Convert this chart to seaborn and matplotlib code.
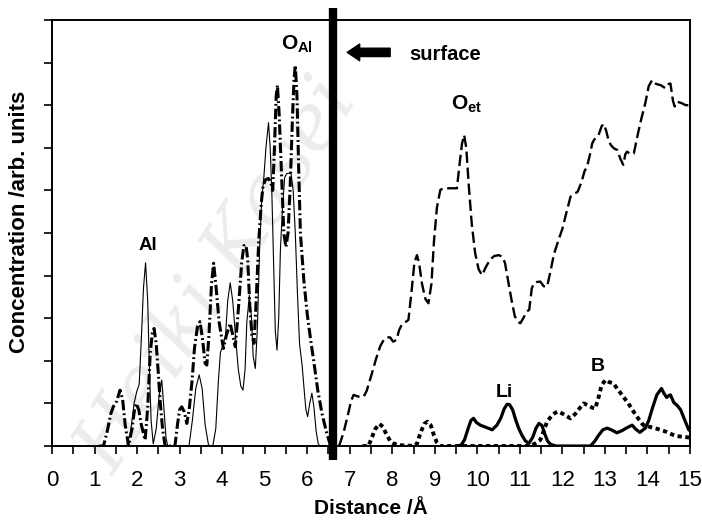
import matplotlib
matplotlib.use("Agg")
import numpy as np
import pandas as pd
import matplotlib.pyplot as plt
import seaborn as sns
from matplotlib.ticker import MultipleLocator, NullFormatter
from matplotlib import font_manager

# ---------------- data ----------------
al_x = [1.50, 1.76, 1.85, 1.93, 1.99, 2.05, 2.10, 2.15, 2.20, 2.25, 2.29, 2.33, 2.38, 2.45, 2.52, 2.58,
        2.63, 2.68, 2.72, 3.22, 3.30, 3.38, 3.46, 3.53, 3.60, 3.68, 3.78, 3.85, 3.91, 3.96, 4.02, 4.08,
        4.13, 4.19, 4.25, 4.32, 4.38, 4.44, 4.49, 4.54, 4.58, 4.64, 4.69, 4.73, 4.78, 4.83, 4.88, 4.93,
        4.98, 5.03, 5.09, 5.13, 5.17, 5.21, 5.25, 5.29, 5.33, 5.37, 5.42, 5.47, 5.52, 5.62, 5.67, 5.72,
        5.77, 5.82, 5.88, 5.93, 5.97, 6.01, 6.06, 6.11, 6.16, 6.21, 6.26, 6.30, 6.55]
al_y = [0.00, 0.00, 0.35, 1.00, 1.27, 1.45, 2.50, 3.70, 4.30, 3.40, 1.80, 0.60, 0.05, 0.40, 1.20, 1.55,
        0.90, 0.20, 0.00, 0.00, 0.60, 1.35, 1.67, 1.35, 0.50, 0.02, 0.00, 0.40, 1.50, 2.20, 2.35, 2.60,
        3.40, 3.83, 3.40, 2.50, 1.80, 1.40, 1.31, 1.80, 2.90, 3.54, 3.00, 2.10, 1.82, 2.80, 4.60, 5.77,
        6.30, 7.00, 7.59, 7.00, 5.90, 4.30, 2.70, 2.25, 3.00, 4.60, 5.60, 6.30, 6.40, 6.40, 6.00, 5.00,
        3.60, 2.40, 1.90, 1.30, 0.85, 0.69, 1.00, 1.24, 0.90, 0.35, 0.05, 0.00, 0.00]

oal_x = [1.10, 1.21, 1.30, 1.38, 1.44, 1.52, 1.60, 1.66, 1.72, 1.80, 1.88, 1.94, 1.98, 2.04, 2.10, 2.19,
         2.25, 2.31, 2.36, 2.40, 2.45, 2.50, 2.54, 2.60, 2.66, 2.89, 2.95, 3.00, 3.05, 3.11, 3.17, 3.23,
         3.29, 3.35, 3.42, 3.48, 3.54, 3.60, 3.64, 3.69, 3.75, 3.80, 3.86, 3.93, 4.03, 4.10, 4.19, 4.25,
         4.31, 4.38, 4.46, 4.51, 4.56, 4.60, 4.65, 4.70, 4.75, 4.80, 4.86, 4.92, 4.96, 5.02, 5.09, 5.14,
         5.19, 5.23, 5.27, 5.30, 5.34, 5.40, 5.45, 5.50, 5.55, 5.60, 5.65, 5.69, 5.72, 5.76, 5.80, 5.84,
         5.92, 6.00, 6.08, 6.15, 6.25, 6.35, 6.46, 6.55]
oal_y = [0.00, 0.00, 0.35, 0.75, 0.92, 1.05, 1.31, 1.10, 0.50, 0.00, 0.40, 0.85, 1.00, 0.85, 0.50, 0.14,
         0.90, 2.20, 2.65, 2.76, 2.40, 1.70, 1.08, 0.40, 0.00, 0.00, 0.50, 0.85, 0.92, 0.80, 0.53, 0.90,
         1.50, 2.30, 2.80, 2.92, 2.50, 1.94, 1.90, 2.60, 3.80, 4.29, 3.70, 2.90, 2.29, 2.60, 2.88, 2.60,
         2.33, 3.20, 4.30, 4.70, 4.72, 4.40, 3.30, 2.60, 2.41, 3.40, 4.80, 5.70, 6.09, 6.25, 6.28, 6.20,
         6.00, 7.00, 8.20, 8.47, 7.80, 6.30, 5.00, 4.67, 5.00, 6.10, 7.60, 8.60, 8.94, 8.20, 6.50, 5.00,
         3.90, 3.10, 2.50, 2.02, 1.30, 0.75, 0.30, 0.00]

oet_x = [6.75, 6.85, 6.95, 7.03, 7.09, 7.20, 7.33, 7.40, 7.52, 7.62, 7.72, 7.80, 7.88, 7.95, 8.02, 8.10,
         8.16, 8.22, 8.30, 8.38, 8.45, 8.52, 8.58, 8.63, 8.70, 8.78, 8.85, 8.92, 8.98, 9.05, 9.13, 9.20,
         9.29, 9.40, 9.52, 9.58, 9.64, 9.69, 9.74, 9.80, 9.87, 9.95, 10.03, 10.11, 10.20, 10.30, 10.40,
         10.50, 10.58, 10.65, 10.72, 10.80, 10.88, 10.95, 11.01, 11.08, 11.16, 11.22, 11.28, 11.33,
         11.40, 11.48, 11.56, 11.64, 11.72, 11.80, 11.91, 12.00, 12.10, 12.19, 12.28, 12.36, 12.45,
         12.52, 12.58, 12.65, 12.70, 12.74, 12.80, 12.85, 12.92, 12.97, 13.03, 13.09, 13.15, 13.22,
         13.29, 13.36, 13.43, 13.48, 13.52, 13.60, 13.68, 13.78, 13.86, 13.95, 14.03, 14.11, 14.20,
         14.31, 14.42, 14.50, 14.54, 14.60, 14.64, 14.70, 14.80, 14.90, 15.00]
oet_y = [0.00, 0.30, 0.70, 1.05, 1.20, 1.16, 1.16, 1.30, 1.70, 2.05, 2.35, 2.49, 2.55, 2.55, 2.45, 2.49,
         2.72, 2.84, 2.90, 2.96, 3.60, 4.30, 4.48, 4.30, 3.80, 3.45, 3.35, 3.80, 4.80, 5.60, 6.01, 6.05,
         6.05, 6.05, 6.05, 6.60, 7.10, 7.30, 7.00, 6.10, 5.20, 4.52, 4.15, 4.01, 4.20, 4.38, 4.46,
         4.48, 4.45, 4.30, 3.90, 3.45, 3.05, 2.92, 2.88, 3.00, 3.15, 3.20, 3.70, 3.82,
         3.85, 3.86, 3.75, 3.74, 4.10, 4.50, 4.84, 5.10, 5.50, 5.85, 5.92, 5.97, 6.20,
         6.45, 6.56, 6.85, 7.10, 7.18, 7.25, 7.30, 7.50, 7.56, 7.40, 7.15, 7.05, 6.98,
         6.95, 6.75, 6.60, 6.85, 6.91, 6.85, 6.87, 7.35, 7.70, 8.05, 8.45, 8.59, 8.50,
         8.47, 8.40, 8.50, 8.51, 8.10, 7.97, 8.08, 8.05, 8.00, 8.00]

li_x = [9.50, 9.62, 9.70, 9.78, 9.85, 9.91, 9.98, 10.07, 10.20, 10.35, 10.46, 10.55, 10.63, 10.70,
        10.76, 10.83, 10.90, 10.97, 11.05, 11.13, 11.21, 11.30, 11.38, 11.45, 11.52, 11.58, 11.65,
        11.72, 11.85, 12.66, 12.75, 12.85, 12.95, 13.05, 13.15, 13.28, 13.40, 13.52, 13.64, 13.72,
        13.82, 13.95, 14.03, 14.12, 14.22, 14.33, 14.38, 14.45, 14.50, 14.54, 14.62, 14.70, 14.78,
        14.88, 14.97, 15.00]
li_y = [0.00, 0.02, 0.15, 0.40, 0.60, 0.65, 0.55, 0.49, 0.44, 0.38, 0.49, 0.65, 0.87, 0.98,
        0.97, 0.85, 0.62, 0.42, 0.25, 0.12, 0.06, 0.20, 0.42, 0.53, 0.48, 0.30, 0.12,
        0.04, 0.00, 0.00, 0.10, 0.25, 0.38, 0.42, 0.38, 0.31, 0.36, 0.43, 0.49, 0.40,
        0.32, 0.42, 0.60, 0.90, 1.20, 1.35, 1.25, 1.14, 1.18, 1.20, 1.02, 0.95, 0.85,
        0.60, 0.38, 0.36]

b_x = [7.30, 7.44, 7.52, 7.60, 7.70, 7.78, 7.86, 7.95, 8.03, 8.15, 8.50, 8.58, 8.66, 8.75, 8.83, 8.90,
       8.98, 9.05, 9.13, 11.25, 11.36, 11.48, 11.56, 11.64, 11.74, 11.83, 11.91, 12.00, 12.10, 12.19,
       12.30, 12.40, 12.50, 12.62, 12.70, 12.77, 12.84, 12.92, 13.01, 13.10, 13.20, 13.30, 13.43,
       13.55, 13.67, 13.78, 13.90, 14.05, 14.20, 14.31, 14.45, 14.58, 14.70, 14.80, 14.97, 15.00]
b_y = [0.00, 0.00, 0.20, 0.40, 0.52, 0.45, 0.28, 0.12, 0.06, 0.02, 0.00, 0.05, 0.30, 0.52, 0.57, 0.50,
       0.25, 0.08, 0.00, 0.00, 0.06, 0.14, 0.35, 0.57, 0.70, 0.78, 0.81, 0.76, 0.70, 0.65,
       0.75, 0.88, 1.00, 0.95, 0.90, 0.88, 1.10, 1.42, 1.55, 1.50, 1.47, 1.33, 1.16,
       1.00, 0.81, 0.65, 0.49, 0.45, 0.41, 0.38, 0.33, 0.27, 0.23, 0.22, 0.20, 0.20]

surface_x = 6.6
x_tick_labels = [str(i) for i in range(16)]

# ---------------- style ----------------
sns.set_style("ticks")
plt.rcParams["font.family"] = ["Liberation Sans", "DejaVu Sans"]
plt.rcParams["mathtext.fontset"] = "custom"
plt.rcParams["mathtext.rm"] = "Liberation Sans"
plt.rcParams["mathtext.bf"] = "Liberation Sans:bold"
plt.rcParams["axes.linewidth"] = 1.4
plt.rcParams["text.color"] = "black"
plt.rcParams["axes.labelcolor"] = "black"
plt.rcParams["xtick.color"] = "black"
plt.rcParams["ytick.color"] = "black"

installed = {f.name for f in font_manager.fontManager.ttflist}
tick_family = ["Liberation Sans Narrow"] if "Liberation Sans Narrow" in installed else ["Liberation Sans"]
tick_size = 17 if "Liberation Sans Narrow" in installed else 16

fig = plt.figure(figsize=(7.02, 5.22), dpi=100)
ax = fig.add_axes([52 / 702, 76 / 522, 638 / 702, 426 / 522])
ax.patch.set_alpha(0)

# faint watermark behind everything
fig.text(0.31, 0.47, "Heiki Kasei", rotation=57, fontsize=56, color="#ececec",
         family=["DejaVu Serif"], style="italic", ha="center", va="center", zorder=-5)

series = [
    (al_x, al_y, dict(lw=0.8, linestyle="-")),
    (oal_x, oal_y, dict(lw=2.2, linestyle=(0, (3.4, 1.0, 0.6, 1.0)))),
    (oet_x, oet_y, dict(lw=1.7, linestyle=(0, (4.8, 2.0)))),
    (li_x, li_y, dict(lw=2.3, linestyle="-")),
    (b_x, b_y, dict(lw=2.8, linestyle=(0, (1.1, 0.9)))),
]
for xs, ys, kw in series:
    df = pd.DataFrame({"x": xs, "y": ys})
    sns.lineplot(data=df, x="x", y="y", ax=ax, color="black", sort=False,
                 estimator=None, zorder=3, **kw)

# surface marker bar (extends past the frame)
ax.axvline(surface_x, ymin=-0.033, ymax=1.028, color="black", lw=6,
           clip_on=False, zorder=5, solid_capstyle="butt")

ax.set_xlim(0, 15)
ax.set_ylim(0, 10)
ax.xaxis.set_minor_locator(MultipleLocator(0.5))
ax.set_xticks(range(16))
ax.set_xticklabels(x_tick_labels, family=tick_family, fontsize=tick_size)
ax.yaxis.set_major_locator(MultipleLocator(1))
ax.yaxis.set_major_formatter(NullFormatter())
ax.tick_params(axis="x", which="both", direction="out", length=6, width=1.2, pad=11, color="black")
ax.tick_params(axis="y", which="both", direction="out", length=6, width=1.2, color="black")
for s in ax.spines.values():
    s.set_visible(True)
    s.set_color("black")
    s.set_linewidth(1.4)

ax.set_xlabel("Distance /Å", fontsize=15, fontweight="bold")
ax.set_ylabel("Concentration /arb. units", fontsize=16, fontweight="bold")
ax.xaxis.set_label_coords(0.5, (446 - 499) / 426)
ax.yaxis.set_label_coords((30 - 52) / 638, 0.525)

# annotations
ax.text(2.26, 4.60, "Al", ha="center", va="baseline", fontsize=13.5, fontweight="bold")
ax.text(5.76, 9.30, r"$\mathbf{O_{Al}}$", ha="center", va="baseline", fontsize=15)
ax.text(9.75, 7.89, r"$\mathbf{O_{et}}$", ha="center", va="baseline", fontsize=15)
ax.text(10.64, 1.15, "Li", ha="center", va="baseline", fontsize=14, fontweight="bold")
ax.text(12.82, 1.76, "B", ha="center", va="baseline", fontsize=14, fontweight="bold")
ax.text(8.39, 9.06, "surface", ha="left", va="baseline", fontsize=14.5, fontweight="bold")
ax.annotate("", xy=(6.94, 9.24), xytext=(7.95, 9.24),
            arrowprops=dict(facecolor="black", edgecolor="black", width=6, headwidth=12,
                            headlength=9, shrink=0))

fig.savefig("out.png", dpi=100)
